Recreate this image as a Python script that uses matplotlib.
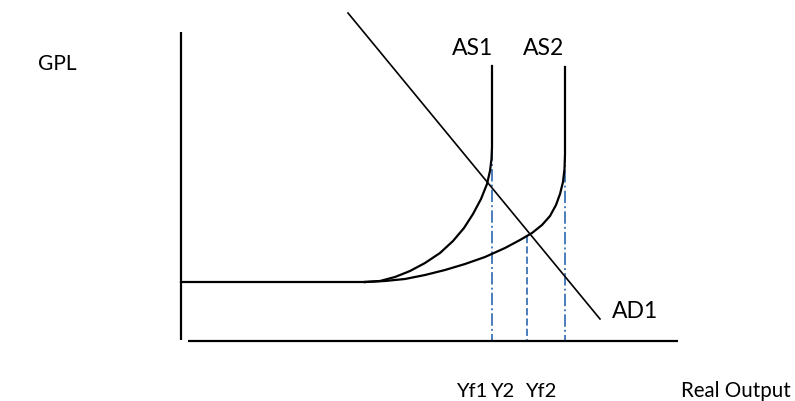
import matplotlib
matplotlib.use("Agg")
import matplotlib.pyplot as plt

# ---- data (diagram coordinates; y grows downward) ----
yaxis_x = [181, 181]
yaxis_y = [33, 341]
xaxis_x = [188, 678]
xaxis_y = [342, 342]

ad_x = [348, 600]
ad_y = [14, 320]

flat_x = [181, 365]
flat_y = [283, 283]

as1_x = [365, 380, 395, 410, 425, 440, 453, 464, 473, 481, 487, 490, 491.5, 492, 492]
as1_y = [283, 282, 278, 272, 264, 254, 242, 229, 215, 200, 185, 172, 160, 148, 67]

as2_x = [365, 385, 405, 425, 445, 465, 485, 505, 520, 532, 542, 550, 556, 560, 563, 564.5, 565, 565]
as2_y = [283, 282, 280, 276, 271, 265, 258, 249, 241, 234, 226, 217, 206, 195, 183, 170, 155, 68]

guide_x = [492, 527, 565]
guide_top = [67, 237, 68]
guide_bottom = [342, 342, 342]
guide_styles = ["dashdot", "dashed", "dashdot"]

labels = ["GPL", "AS1", "AS2", "AD1", "Yf1", "Y2", "Yf2", "Real Output"]
label_x = [38, 452, 523, 612, 456, 490, 525, 681]
label_y = [70, 55, 55, 318, 397, 397, 397, 397]
label_size = [15, 16.5, 16.5, 16.5, 14.5, 14.5, 14.5, 14.8]

# ---- figure ----
fig = plt.figure(figsize=(7.95, 4.02), dpi=100)
ax = fig.add_axes([0, 0, 1, 1])
ax.set_xlim(0, 795)
ax.set_ylim(402, 0)
ax.axis("off")

blue = "#4a7ebb"
for gx, gt, gb, st in zip(guide_x, guide_top, guide_bottom, guide_styles):
    ax.plot([gx, gx], [gt, gb], color=blue, lw=1.4, ls=st, zorder=1)

ax.plot(yaxis_x, yaxis_y, color="black", lw=1.6, solid_capstyle="butt")
ax.plot(xaxis_x, xaxis_y, color="black", lw=1.6, solid_capstyle="butt")
ax.plot(ad_x, ad_y, color="black", lw=1.2)
ax.plot(flat_x, flat_y, color="black", lw=1.6)
ax.plot(as1_x, as1_y, color="black", lw=1.6, solid_joinstyle="round")
ax.plot(as2_x, as2_y, color="black", lw=1.6, solid_joinstyle="round")

for t, x, y, s in zip(labels, label_x, label_y, label_size):
    ax.text(x, y, t, fontsize=s, family="Lato", ha="left", va="baseline", color="black")

fig.savefig("out.png", dpi=100)
